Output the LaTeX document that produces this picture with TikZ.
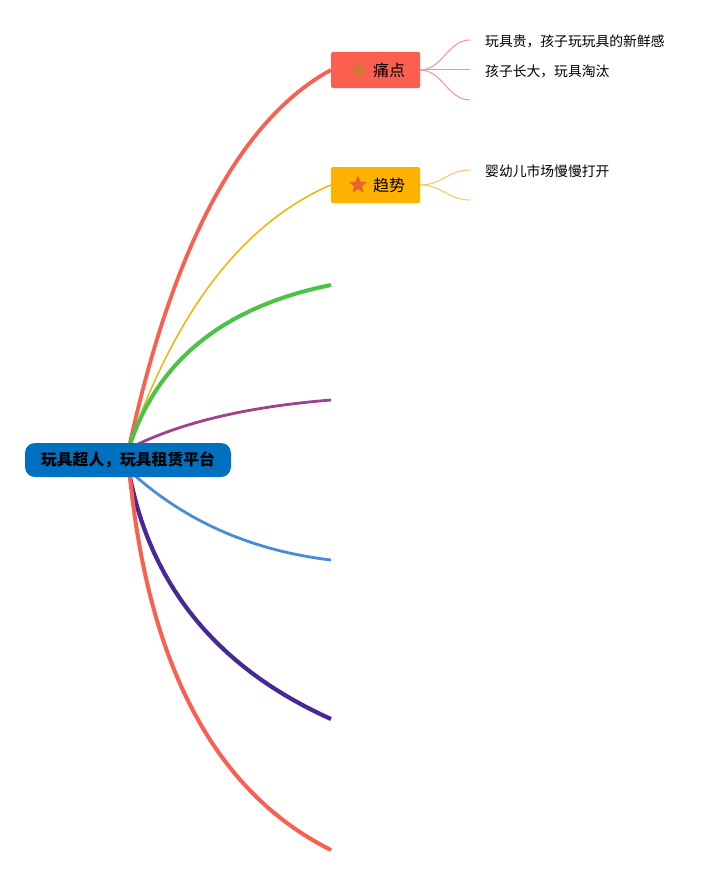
\documentclass[tikz,border=0pt]{standalone}
\usepackage{fontspec}
\setmainfont{Noto Sans CJK SC}
\usetikzlibrary{shapes.geometric}
\definecolor{rootblue}{RGB}{0,112,192}
\definecolor{painred}{RGB}{250,95,80}
\definecolor{trendyel}{RGB}{255,178,0}
\definecolor{lineyel}{RGB}{240,182,20}
\definecolor{brgreen}{RGB}{75,195,70}
\definecolor{brpurple}{RGB}{160,65,140}
\definecolor{brblue}{RGB}{70,140,215}
\definecolor{brdark}{RGB}{70,40,150}
\definecolor{subred}{RGB}{240,150,140}
\definecolor{subyel}{RGB}{245,200,90}
\definecolor{starbrown}{RGB}{208,118,55}
\definecolor{starorange}{RGB}{235,98,45}
\tikzset{
  rootbox/.style={fill=rootblue, rounded corners=10pt, minimum width=206pt, minimum height=34pt, inner sep=0pt, font=\fontsize{15.8}{18}\selectfont\bfseries, text=black},
  mainbox/.style={minimum width=89pt, minimum height=36pt, inner sep=0pt, rounded corners=1.5pt},
  boxtext/.style={font=\fontsize{16}{19}\selectfont, text=black, inner sep=0pt},
  startag/.style={star, star points=5, star point ratio=2.3, minimum size=19pt, inner sep=0pt},
  leaftext/.style={anchor=west, font=\fontsize{13.8}{16}\selectfont, text=black, inner sep=0pt},
}
\begin{document}
\begin{tikzpicture}[x=1pt, y=-1pt]
\useasboundingbox (0,0) rectangle (727,875);
% anchor points at root
\coordinate (rt) at (130,443);
\coordinate (rt2) at (130,445);
\coordinate (rtp) at (132,447);
\coordinate (rbb) at (132,473);
\coordinate (rb) at (130,477);
% free branch ends
\coordinate (eg) at (331,285);
\coordinate (ep) at (331,400);
\coordinate (eb) at (331,560);
\coordinate (ed) at (331,719);
\coordinate (er) at (331,850);
% main boxes
\node[mainbox, fill=painred] (pain) at (375.5,70) {};
\node[mainbox, fill=trendyel] (trend) at (375.5,185) {};
% branches
\draw[painred, line width=3.8pt] (rt) .. controls (174,243.7) and (241,119.3) .. (pain.west);
\draw[lineyel, line width=1.6pt] (rt) .. controls (177.3,308.3) and (244.3,222.3) .. (trend.west);
\draw[brgreen, line width=4pt] (rt2) .. controls (158,359.7) and (225,306.3) .. (eg);
\draw[brpurple, line width=2.8pt] (rtp) .. controls (181.3,422.3) and (247.7,406.7) .. (ep);
\draw[brblue, line width=2.8pt] (rbb) .. controls (186,521.7) and (252.3,550.7) .. (eb);
\draw[brdark, line width=4.2pt] (rb) .. controls (152,588) and (219,668.7) .. (ed);
\draw[painred, line width=4pt] (rb) .. controls (149.3,668.3) and (216.3,792.7) .. (er);
% root
\node[rootbox] (root) at (128,460) {玩具超人，玩具租赁平台};
% box contents
\node[startag, fill=starbrown] (star1) at (359,70) {};
\node[boxtext] (paint) at (389,70.5) {痛点};
\node[startag, fill=starorange] (star2) at (358,185) {};
\node[boxtext] (trendt) at (389,185.5) {趋势};
% leaves of pain
\coordinate (l1) at (470,40);
\coordinate (l2) at (470,70);
\coordinate (l3) at (470,100);
\draw[subred, line width=1pt] (pain.east) .. controls +(22,0) and +(-22,0) .. (l1);
\draw[subred, line width=1pt] (pain.east) -- (l2);
\draw[subred, line width=1pt] (pain.east) .. controls +(22,0) and +(-22,0) .. (l3);
\node[leaftext] (t1) at (485,41) {玩具贵，孩子玩玩具的新鲜感};
\node[leaftext] (t2) at (485,71) {孩子长大，玩具淘汰};
% leaves of trend
\coordinate (l4) at (470,170);
\coordinate (l5) at (470,200);
\draw[subyel, line width=1pt] (trend.east) .. controls +(22,0) and +(-22,0) .. (l4);
\draw[subyel, line width=1pt] (trend.east) .. controls +(22,0) and +(-22,0) .. (l5);
\node[leaftext] (t3) at (485,171) {婴幼儿市场慢慢打开};
\end{tikzpicture}
\end{document}
